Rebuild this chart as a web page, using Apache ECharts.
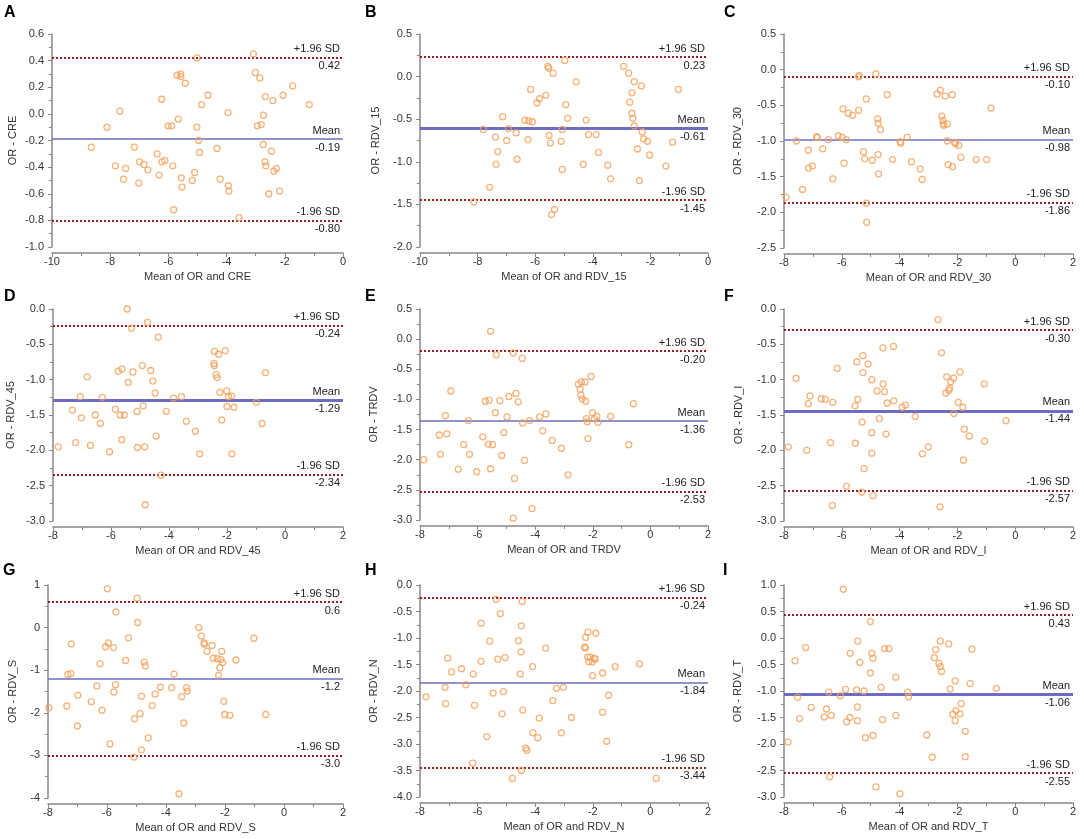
<!DOCTYPE html>
<html>
<head>
<meta charset="utf-8">
<script src="https://cdn.jsdelivr.net/npm/echarts@6/dist/echarts.min.js"></script>
<style>
  body{margin:0;background:#fff;}
  #main{width:1084px;height:839px;}
</style>
</head>
<body>
<div id="main"></div>
<script>
// panel letters and axis names
var panelLetters=['A','B','C','D','E','F','G','H','I'];
var yNames=['OR - CRE','OR - RDV_15','OR - RDV_30','OR - RDV_45','OR - TRDV','OR - RDV_I','OR - RDV_S','OR - RDV_N','OR - RDV_T'];
var xNames=['Mean of OR and CRE','Mean of OR and RDV_15','Mean of OR and RDV_30','Mean of OR and RDV_45','Mean of OR and TRDV','Mean of OR and RDV_I','Mean of OR and RDV_S','Mean of OR and RDV_N','Mean of OR and RDV_T'];

// limits of agreement (text as printed)
var upperText=['0.42','0.23','-0.10','-0.24','-0.20','-0.30','0.6','-0.24','0.43'];
var meanText=['-0.19','-0.61','-0.98','-1.29','-1.36','-1.44','-1.2','-1.84','-1.06'];
var lowerText=['-0.80','-1.45','-1.86','-2.34','-2.53','-2.57','-3.0','-3.44','-2.55'];

// axis ranges
var xMin=[-10,-10,-8,-8,-8,-8,-8,-8,-8];
var xMax=[0,0,2,2,2,2,2,2,2];
var yMin=[-1.0,-2.0,-2.5,-3.0,-3.0,-3.0,-4,-4.0,-3.0];
var yMax=[0.6,0.5,0.5,0.0,0.5,0.0,1,0.0,1.0];
var yStep=[0.2,0.5,0.5,0.5,0.5,0.5,1,0.5,0.5];

// points [mean, difference]
var ptsA=[[-8.65,-0.25],[-8.11,-0.10],[-7.67,0.02],[-7.82,-0.39],[-7.47,-0.41],[-7.54,-0.49],[-7.17,-0.25],[-7.02,-0.52],[-6.99,-0.36],[-6.84,-0.38],[-6.71,-0.42],[-6.39,-0.30],[-6.23,0.11],[-6.32,-0.46],[-6.22,-0.36],[-6.12,-0.35],[-6.01,-0.09],[-5.89,-0.09],[-5.85,-0.39],[-5.82,-0.72],[-5.70,0.29],[-5.58,0.30],[-5.57,0.28],[-5.66,-0.04],[-5.56,-0.48],[-5.53,-0.55],[-5.42,0.23],[-5.18,-0.50],[-5.10,-0.44],[-5.02,0.42],[-5.02,-0.10],[-4.96,-0.20],[-4.93,-0.29],[-4.86,0.07],[-4.64,0.14],[-4.33,-0.26],[-4.22,-0.49],[-3.95,0.01],[-3.94,-0.54],[-3.92,-0.58],[-3.57,-0.78],[-3.08,0.45],[-3.01,0.31],[-2.86,0.27],[-2.94,-0.09],[-2.81,-0.08],[-2.73,-0.01],[-2.74,-0.23],[-2.67,0.13],[-2.68,-0.36],[-2.65,-0.39],[-2.55,-0.60],[-2.46,-0.28],[-2.41,0.10],[-2.38,-0.43],[-2.29,-0.41],[-2.18,-0.58],[-2.06,0.14],[-1.73,0.21],[-1.16,0.07]];
var ptsB=[[-8.13,-1.47],[-7.80,-0.62],[-7.58,-1.30],[-7.38,-0.71],[-7.36,-1.03],[-7.30,-0.88],[-7.13,-0.47],[-6.99,-0.75],[-6.93,-0.61],[-6.66,-0.66],[-6.63,-0.97],[-6.36,-0.51],[-6.23,-0.52],[-6.25,-0.74],[-6.16,-0.15],[-6.10,-0.53],[-5.94,-0.31],[-5.85,-0.26],[-5.63,-0.22],[-5.56,0.12],[-5.53,0.10],[-5.52,-0.69],[-5.47,-0.78],[-5.43,-1.62],[-5.33,-1.56],[-5.38,0.04],[-5.10,-0.76],[-5.06,-0.62],[-5.06,-1.09],[-4.97,0.19],[-4.94,-0.33],[-4.87,-0.49],[-4.58,-0.06],[-4.33,-1.03],[-4.23,-0.51],[-4.15,-0.68],[-3.88,-0.68],[-3.80,-0.89],[-3.48,-1.04],[-3.38,-1.20],[-2.93,0.12],[-2.76,0.04],[-2.72,-0.30],[-2.64,-0.19],[-2.64,-0.43],[-2.61,-0.49],[-2.56,-0.06],[-2.56,-0.58],[-2.45,-0.85],[-2.38,-1.22],[-2.31,-0.11],[-2.28,-0.65],[-2.24,-0.73],[-2.10,-0.76],[-2.03,-0.92],[-1.46,-1.05],[-1.23,-0.77],[-1.03,-0.15]];
var ptsC=[[-7.93,-1.79],[-7.57,-1.00],[-7.36,-1.68],[-7.16,-1.13],[-7.15,-1.38],[-7.02,-1.35],[-6.87,-0.94],[-6.85,-0.95],[-6.66,-1.11],[-6.46,-0.98],[-6.31,-1.53],[-6.12,-0.93],[-5.96,-0.55],[-5.98,-0.95],[-5.92,-1.31],[-5.85,-0.98],[-5.78,-0.61],[-5.63,-0.64],[-5.42,-0.57],[-5.42,-0.10],[-5.40,-0.08],[-5.25,-1.15],[-5.21,-1.25],[-5.15,-0.41],[-5.15,-1.87],[-5.14,-2.14],[-4.95,-1.27],[-4.82,-0.06],[-4.76,-0.69],[-4.74,-0.75],[-4.74,-1.19],[-4.73,-1.46],[-4.66,-0.84],[-4.43,-0.35],[-4.24,-1.26],[-3.98,-1.01],[-3.96,-1.03],[-3.74,-0.95],[-3.59,-1.29],[-3.29,-1.39],[-3.22,-1.54],[-2.70,-0.34],[-2.59,-0.29],[-2.54,-0.65],[-2.50,-0.71],[-2.49,-0.76],[-2.47,-0.78],[-2.42,-0.37],[-2.35,-0.76],[-2.35,-1.00],[-2.32,-1.33],[-2.18,-0.35],[-2.17,-1.36],[-2.10,-1.02],[-2.06,-1.04],[-1.95,-1.06],[-1.88,-1.23],[-1.35,-1.26],[-0.99,-1.26],[-0.84,-0.54]];
var ptsD=[[-7.82,-1.95],[-7.33,-1.43],[-7.22,-1.89],[-7.06,-1.24],[-7.02,-1.54],[-6.82,-0.96],[-6.71,-1.93],[-6.54,-1.50],[-6.37,-1.62],[-6.30,-1.25],[-6.05,-2.02],[-5.85,-1.42],[-5.75,-0.88],[-5.68,-1.50],[-5.62,-0.85],[-5.63,-1.85],[-5.54,-1.50],[-5.44,0.00],[-5.41,-1.04],[-5.30,-0.27],[-5.24,-0.89],[-5.10,-1.45],[-5.09,-1.96],[-4.92,-0.80],[-4.89,-1.37],[-4.84,-1.95],[-4.82,-2.77],[-4.74,-0.19],[-4.63,-0.87],[-4.56,-1.02],[-4.48,-1.19],[-4.44,-1.80],[-4.37,-0.40],[-4.28,-2.35],[-4.09,-1.45],[-3.84,-1.26],[-3.57,-1.24],[-3.40,-1.59],[-3.09,-1.73],[-2.94,-2.05],[-2.43,-0.60],[-2.45,-0.77],[-2.44,-0.80],[-2.38,-0.93],[-2.34,-0.97],[-2.29,-0.64],[-2.25,-1.18],[-2.18,-1.57],[-2.06,-0.59],[-2.01,-1.16],[-2.00,-1.38],[-1.95,-1.24],[-1.84,-1.23],[-1.83,-2.05],[-1.76,-1.39],[-0.99,-1.32],[-0.79,-1.62],[-0.67,-0.90]];
var ptsE=[[-7.87,-2.00],[-7.33,-1.59],[-7.29,-1.91],[-7.12,-1.27],[-7.07,-1.57],[-6.93,-0.86],[-6.67,-2.16],[-6.48,-1.75],[-6.32,-1.35],[-6.28,-1.91],[-6.03,-2.20],[-5.82,-1.62],[-5.73,-1.03],[-5.60,-1.01],[-5.63,-1.74],[-5.55,0.13],[-5.55,-2.15],[-5.48,-1.75],[-5.38,-1.22],[-5.35,-0.26],[-5.23,-1.02],[-5.16,-1.93],[-5.09,-1.55],[-4.98,-1.29],[-4.91,-0.95],[-4.76,-0.23],[-4.72,-2.31],[-4.76,-2.97],[-4.67,-0.90],[-4.59,-1.04],[-4.45,-0.32],[-4.44,-1.39],[-4.37,-2.01],[-4.19,-1.35],[-4.11,-2.81],[-3.85,-1.29],[-3.74,-1.52],[-3.63,-1.24],[-3.41,-1.68],[-3.09,-1.81],[-2.86,-2.25],[-2.50,-0.75],[-2.44,-0.83],[-2.40,-0.71],[-2.41,-0.93],[-2.37,-0.99],[-2.27,-0.71],[-2.25,-1.03],[-2.22,-1.32],[-2.19,-1.37],[-2.17,-1.65],[-2.06,-0.62],[-2.01,-1.22],[-1.94,-1.32],[-1.86,-1.28],[-1.82,-1.38],[-1.38,-1.28],[-0.75,-1.75],[-0.59,-1.07]];
var ptsF=[[-7.85,-1.95],[-7.58,-0.98],[-7.21,-2.00],[-7.16,-1.34],[-7.10,-1.23],[-6.71,-1.27],[-6.57,-1.28],[-6.31,-1.32],[-6.33,-2.78],[-6.39,-1.89],[-6.16,-0.84],[-5.84,-2.51],[-5.54,-1.37],[-5.53,-1.90],[-5.48,-0.75],[-5.45,-1.28],[-5.31,-2.59],[-5.30,-1.60],[-5.27,-0.66],[-5.27,-0.90],[-5.23,-2.26],[-5.09,-0.78],[-4.96,-1.00],[-4.96,-1.75],[-4.96,-2.04],[-4.92,-2.64],[-4.78,-1.16],[-4.70,-1.55],[-4.58,-0.55],[-4.57,-1.06],[-4.52,-1.17],[-4.47,-1.77],[-4.43,-1.33],[-4.21,-0.53],[-4.20,-1.30],[-3.91,-1.39],[-3.80,-1.36],[-3.46,-1.52],[-3.21,-2.05],[-3.01,-1.95],[-2.67,-0.15],[-2.60,-2.80],[-2.55,-0.62],[-2.40,-1.19],[-2.37,-0.96],[-2.30,-1.15],[-2.27,-1.12],[-2.23,-1.03],[-2.13,-0.98],[-2.12,-1.48],[-1.97,-1.32],[-1.91,-0.89],[-1.81,-1.39],[-1.79,-2.14],[-1.76,-1.70],[-1.59,-1.80],[-1.07,-1.06],[-1.06,-1.87],[-0.32,-1.58]];
var ptsG=[[-7.97,-1.88],[-7.36,-1.84],[-7.33,-1.10],[-7.23,-1.08],[-7.21,-0.38],[-6.99,-1.59],[-7.00,-2.31],[-6.53,-1.74],[-6.34,-1.37],[-6.24,-0.85],[-6.17,-1.94],[-6.05,-0.45],[-5.99,0.91],[-5.95,-0.36],[-5.90,-2.73],[-5.78,-0.47],[-5.77,-1.51],[-5.71,-1.34],[-5.70,0.37],[-5.37,-0.77],[-5.27,-0.24],[-5.09,-3.04],[-5.07,-2.14],[-4.98,0.69],[-4.96,0.12],[-4.88,-2.02],[-4.83,-1.61],[-4.83,-2.87],[-4.74,-0.81],[-4.70,-0.90],[-4.60,-2.59],[-4.47,-1.83],[-4.37,-1.56],[-4.19,-1.40],[-3.81,-1.41],[-3.73,-1.09],[-3.56,-3.90],[-3.47,-1.62],[-3.40,-2.24],[-3.30,-1.41],[-3.28,-1.49],[-2.89,0.00],[-2.80,-0.20],[-2.71,-0.36],[-2.69,-0.39],[-2.61,-0.56],[-2.44,-0.42],[-2.40,-0.72],[-2.26,-0.73],[-2.14,-0.75],[-2.11,-0.56],[-2.08,-0.82],[-2.18,-0.94],[-2.22,-1.12],[-2.04,-1.73],[-2.01,-2.04],[-1.83,-2.06],[-1.63,-0.76],[-1.02,-0.25],[-0.62,-2.04]];
var ptsH=[[-7.79,-2.11],[-7.13,-1.93],[-7.11,-2.24],[-7.04,-1.38],[-6.91,-1.64],[-6.56,-1.58],[-6.41,-1.88],[-6.15,-1.68],[-6.11,-2.27],[-6.17,-3.36],[-5.88,-0.72],[-5.88,-1.44],[-5.68,-2.86],[-5.58,-1.06],[-5.46,-2.04],[-5.35,-0.27],[-5.30,-1.40],[-5.21,-0.54],[-5.15,-2.43],[-5.10,-2.01],[-5.05,-1.37],[-4.58,-1.05],[-4.52,-1.68],[-4.49,-1.26],[-4.48,-0.77],[-4.45,-0.31],[-4.48,-3.50],[-4.43,-2.36],[-4.79,-3.65],[-4.33,-3.08],[-4.29,-3.12],[-4.09,-1.54],[-4.08,-2.79],[-3.91,-2.88],[-3.86,-2.51],[-3.64,-1.19],[-3.39,-2.18],[-3.26,-1.95],[-3.09,-2.79],[-3.02,-1.93],[-2.74,-2.50],[-2.28,-1.17],[-2.26,-1.19],[-2.25,-0.99],[-2.18,-1.36],[-2.17,-0.89],[-2.14,-1.45],[-2.09,-1.36],[-2.02,-1.45],[-1.95,-1.38],[-1.92,-1.40],[-1.90,-0.91],[-2.01,-1.71],[-1.66,-1.66],[-1.66,-2.40],[-1.52,-2.95],[-1.45,-2.08],[-1.22,-1.54],[-0.38,-1.49],[0.20,-3.65]];
var ptsI=[[-7.86,-1.96],[-7.62,-0.43],[-7.53,-1.12],[-7.46,-1.52],[-7.25,-0.18],[-7.06,-1.31],[-6.61,-1.49],[-6.53,-1.34],[-6.45,-1.02],[-6.36,-1.46],[-6.42,-2.62],[-6.05,-1.09],[-5.95,0.92],[-5.87,-0.97],[-5.83,-1.58],[-5.72,-1.50],[-5.71,-0.29],[-5.49,-0.98],[-5.46,-1.56],[-5.46,-1.30],[-5.45,-0.06],[-5.38,-0.46],[-5.23,-1.00],[-5.18,-1.88],[-5.01,0.31],[-5.01,-0.66],[-4.96,-0.29],[-4.92,-0.38],[-4.92,-1.84],[-4.82,-2.81],[-4.64,-0.93],[-4.59,-1.54],[-4.52,-0.20],[-4.37,-0.20],[-4.13,-0.74],[-4.13,-1.46],[-3.99,-2.94],[-3.72,-1.02],[-3.69,-1.11],[-3.06,-1.83],[-2.87,-2.25],[-2.80,-0.37],[-2.75,-0.22],[-2.64,-0.48],[-2.59,-0.54],[-2.59,-0.06],[-2.55,-0.63],[-2.30,-0.11],[-2.25,-0.96],[-2.16,-1.44],[-2.08,-0.81],[-2.08,-1.56],[-2.05,-1.37],[-1.91,-1.43],[-1.87,-1.24],[-1.73,-1.76],[-1.73,-2.24],[-1.56,-0.86],[-1.50,-0.21],[-0.65,-0.95]];
var allPts=[ptsA,ptsB,ptsC,ptsD,ptsE,ptsF,ptsG,ptsH,ptsI];

// layout (px)
var gridBox=[
  [52,34,291,213],[420,34,288,213],[784,34,289,214],
  [53,309,290,212],[420,309,288,211],[784,309,289,212],
  [48,585,295,213],[420,585,288,212],[784,585,289,212]
];
var yNameGap=[34,39,41,37,41,40,30,41,41];
var thickMean=[false,true,false,true,false,true,false,false,true];
var letterPos=[[4,5],[365,5],[724,5],[4,289],[365,289],[724,289],[3,563],[365,563],[723,563]];

var chart=echarts.init(document.getElementById('main'));
var FONT='"Liberation Sans", Arial, sans-serif';
var grids=[],xAxes=[],yAxes=[],series=[],graphics=[];

function lineLabel(txt,pos){
  return {show:true,position:pos,formatter:txt,color:'#222',fontSize:11,fontFamily:FONT,distance:3};
}

for(var i=0;i<9;i++){
  var b=gridBox[i];
  grids.push({left:b[0],top:b[1],width:b[2],height:b[3]});
  xAxes.push({
    type:'value',gridIndex:i,min:xMin[i],max:xMax[i],interval:2,offset:6,
    name:xNames[i],nameLocation:'middle',nameGap:18,
    nameTextStyle:{color:'#333',fontSize:11,fontFamily:FONT},
    axisLine:{show:true,onZero:false,lineStyle:{color:'#888',width:1.5}},
    axisTick:{show:true,length:4,lineStyle:{color:'#888'}},
    minorTick:{show:true,splitNumber:2,length:3,lineStyle:{color:'#888'}},
    axisLabel:{color:'#333',fontSize:11,fontFamily:FONT,margin:3},
    splitLine:{show:false}
  });
  (function(step){
    yAxes.push({
      type:'value',gridIndex:i,min:yMin[i],max:yMax[i],interval:step,
      name:yNames[i],nameLocation:'middle',nameGap:yNameGap[i],nameRotate:90,
      nameTextStyle:{color:'#333',fontSize:11,fontFamily:FONT},
      axisLine:{show:true,onZero:false,lineStyle:{color:'#888',width:1.5}},
      axisTick:{show:true,length:4,lineStyle:{color:'#888'}},
      minorTick:{show:true,splitNumber:2,length:3,lineStyle:{color:'#888'}},
      axisLabel:{color:'#333',fontSize:11,fontFamily:FONT,margin:8,
        formatter:function(v){return step>=1?v.toFixed(0):v.toFixed(1);}},
      splitLine:{show:false}
    });
  })(yStep[i]);

  var red={color:'#9b1d20',type:[2,2],width:2};
  var blue={color:'#6c6cc6',type:'solid',width:thickMean[i]?3:1.5};
  var hide={color:'rgba(0,0,0,0)',width:0};
  var up=parseFloat(upperText[i]),mn=parseFloat(meanText[i]),lo=parseFloat(lowerText[i]);
  series.push({
    type:'scatter',xAxisIndex:i,yAxisIndex:i,data:allPts[i],
    symbol:'circle',symbolSize:6,z:5,
    itemStyle:{color:'rgba(0,0,0,0)',borderColor:'#f2a05a',borderWidth:1.3},
    markLine:{
      silent:true,symbol:'none',animation:false,
      data:[
        {yAxis:up,lineStyle:red,label:lineLabel('+1.96 SD','insideEndTop')},
        {yAxis:up,lineStyle:hide,label:lineLabel(upperText[i],'insideEndBottom')},
        {yAxis:mn,lineStyle:blue,label:lineLabel('Mean','insideEndTop')},
        {yAxis:mn,lineStyle:hide,label:lineLabel(meanText[i],'insideEndBottom')},
        {yAxis:lo,lineStyle:red,label:lineLabel('-1.96 SD','insideEndTop')},
        {yAxis:lo,lineStyle:hide,label:lineLabel(lowerText[i],'insideEndBottom')}
      ]
    }
  });
  graphics.push({type:'text',left:letterPos[i][0],top:letterPos[i][1],
    style:{text:panelLetters[i],fontSize:16,fontWeight:'bold',fill:'#000',fontFamily:FONT}});
}

chart.setOption({
  backgroundColor:'#fff',
  animation:false,
  grid:grids,
  xAxis:xAxes,
  yAxis:yAxes,
  series:series,
  graphic:graphics
});
</script>
</body>
</html>
